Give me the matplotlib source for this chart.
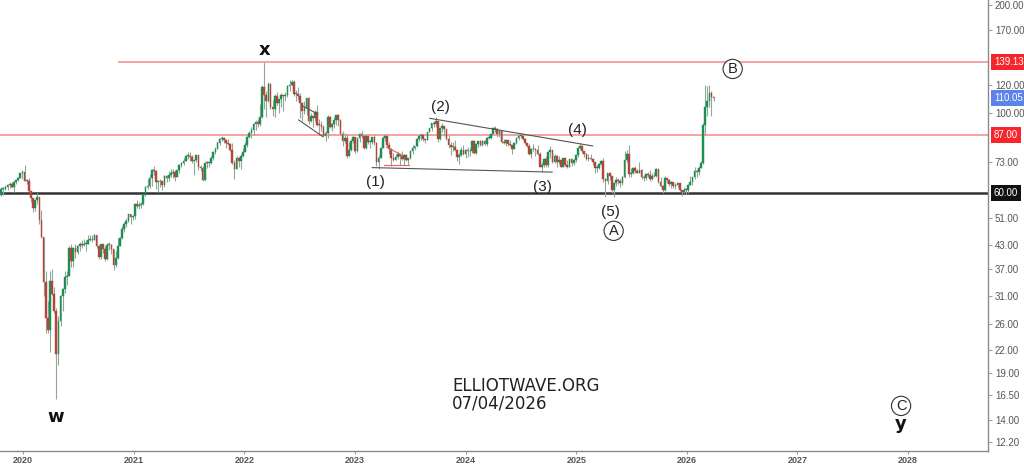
import matplotlib
matplotlib.use("Agg")
import matplotlib.pyplot as plt
import matplotlib.dates as mdates
import matplotlib.transforms as mtransforms
import numpy as np
import pandas as pd


# weekly candles, week starting 2019-10-14 (open of each week = previous close)
FIRST_WEEK = "2019-10-14"
FIRST_OPEN = 60.5

close = [
    # 2019
    59.4, 61.7, 61.7, 62.5, 63.3, 63.4, 62.4, 64.4, 65.2, 66.1, 68.2,
    # 2020
    68.6, 65.0, 64.9, 60.7, 58.2, 54.5, 57.3, 58.5, 50.5, 45.3, 33.9, 27.0, 24.9,
    34.1, 31.5, 28.1, 21.4, 26.4, 31.0, 32.5, 35.1, 35.3, 42.3, 38.7, 42.2, 41.0,
    42.8, 43.2, 43.1, 43.3, 43.3, 44.4, 44.8, 44.4, 45.8, 42.7, 39.8, 43.2, 41.9,
    39.3, 42.9, 42.9, 41.8, 37.9, 39.5, 42.8, 45.0, 47.8, 49.3, 50.0, 52.3, 51.3, 51.8,
    # 2021
    56.0, 55.1, 55.4, 55.9, 59.3, 62.4, 62.9, 66.1, 69.4, 69.2, 64.5, 64.6, 64.9,
    63.0, 66.8, 66.1, 67.3, 68.3, 68.7, 66.4, 69.6, 71.9, 72.7, 73.5, 76.2, 76.2,
    75.6, 73.6, 74.1, 76.3, 70.7, 70.6, 65.2, 72.7, 72.6, 72.9, 75.3, 78.1, 79.3,
    82.4, 84.9, 85.5, 84.4, 82.7, 82.2, 78.9, 72.7, 69.9, 75.2, 73.5, 76.1, 77.8,
    # 2022
    81.8, 86.1, 87.9, 90.0, 93.3, 94.4, 93.5, 97.9, 118.1, 112.7, 107.9, 120.7, 104.4,
    102.8, 111.7, 106.7, 109.3, 112.4, 111.6, 112.6, 119.4, 119.7, 122.0, 113.1, 113.1,
    111.6, 107.0, 101.2, 103.2, 110.0, 94.9, 98.2, 96.7, 101.0, 93.0, 92.8, 91.4, 86.2,
    88.0, 97.9, 91.6, 93.5, 95.8, 98.6, 96.0, 87.6, 83.6, 85.6, 76.1, 79.0, 83.9, 85.9,
    # 2023
    78.6, 85.3, 87.6, 86.7, 79.9, 86.4, 83.0, 83.2, 85.8, 82.8, 73.0, 75.0, 79.8,
    85.1, 86.3, 81.7, 79.5, 75.3, 74.2, 75.6, 77.0, 76.1, 74.8, 76.6, 73.9, 74.9,
    78.5, 79.9, 81.1, 85.0, 86.2, 86.8, 84.8, 84.5, 88.6, 90.7, 93.9, 93.3, 95.3,
    84.6, 90.9, 92.2, 90.5, 84.9, 81.4, 80.6, 80.6, 78.9, 75.8, 76.6, 79.1, 77.0,
    # 2024
    78.8, 78.3, 78.6, 83.6, 77.3, 82.2, 83.5, 81.6, 83.6, 82.1, 85.3, 85.4, 87.5,
    91.2, 90.5, 87.3, 89.5, 83.0, 82.8, 84.0, 82.1, 81.6, 79.6, 82.6, 85.2, 86.4,
    86.5, 85.0, 82.6, 81.1, 76.8, 79.7, 79.7, 79.0, 76.9, 71.1, 71.6, 74.5, 72.0,
    78.1, 79.0, 73.1, 76.1, 73.1, 73.9, 71.0, 75.2, 71.8, 71.1, 74.5, 72.9, 74.2,
    # 2025
    76.5, 79.8, 81.0, 78.5, 76.8, 74.7, 74.7, 74.4, 73.2, 70.4, 70.6, 72.2, 73.6,
    65.6, 64.8, 68.0, 66.9, 61.3, 63.9, 65.4, 64.8, 63.9, 66.5, 74.2, 77.0, 67.8,
    68.3, 70.4, 69.3, 68.4, 69.7, 66.6, 65.9, 67.7, 67.5, 65.5, 67.0, 66.7, 70.1,
    64.5, 62.7, 61.3, 65.9, 65.1, 63.6, 64.4, 62.6, 63.2, 63.8, 61.1, 60.5, 61.0,
    # 2026
    61.0, 63.3, 64.5, 66.5, 69.3, 68.5, 70.5, 72.9, 92.7, 104.0, 108.5, 113.5, 111.0, 110.05,
]

high = [
    60.8, 62.2, 62.4, 63.2, 63.5, 64.2, 64.3, 64.6, 65.3, 66.5, 68.3,
    69.5, 71.8, 65.5, 66.0, 60.5, 58.2, 57.5, 59.9, 58.3, 53.7, 45.2, 36.3, 30.0,
    36.3, 36.9, 32.9, 28.7, 27.3, 31.3, 32.7, 36.4, 36.4, 42.6, 43.4, 42.5, 43.2,
    43.0, 43.9, 44.3, 44.7, 44.3, 46.0, 45.9, 46.0, 46.2, 46.0, 42.9, 43.4, 43.1,
    42.8, 43.5, 43.9, 43.4, 42.0, 41.4, 45.1, 45.2, 48.7, 49.9, 51.0, 52.6, 52.5, 52.0,
    56.3, 57.4, 56.7, 56.7, 59.6, 62.8, 65.5, 67.7, 69.8, 71.4, 69.4, 65.1, 65.8,
    64.9, 67.3, 67.5, 69.0, 69.8, 69.8, 69.6, 69.7, 72.3, 73.0, 75.0, 76.4, 77.8,
    77.8, 76.4, 74.2, 76.6, 75.6, 71.6, 71.3, 72.9, 73.7, 73.4, 76.0, 78.4, 80.8,
    83.5, 85.1, 86.7, 86.1, 85.0, 84.6, 82.6, 82.9, 74.0, 76.2, 75.6, 76.9, 79.8,
    83.0, 86.7, 89.5, 91.7, 94.0, 95.6, 96.2, 105.8, 119.8, 139.13, 115.5, 122.0, 121.2,
    108.8, 112.8, 114.8, 109.8, 113.6, 112.6, 114.3, 119.9, 124.0, 123.7, 124.0, 116.2,
    118.3, 113.5, 107.7, 108.0, 110.3, 110.9, 99.9, 97.6, 102.0, 105.6, 96.4, 95.2, 93.0,
    89.4, 98.8, 98.1, 94.0, 97.5, 99.1, 99.6, 96.3, 89.2, 87.9, 87.7, 83.3, 84.8, 86.7,
    86.0, 85.5, 88.0, 89.1, 86.9, 86.9, 86.9, 84.2, 86.0, 86.8, 83.0, 76.5, 80.3,
    86.4, 87.5, 86.5, 83.4, 79.9, 77.6, 76.9, 78.5, 77.1, 78.7, 77.1, 77.2, 75.1,
    78.8, 81.8, 81.2, 85.2, 86.6, 88.1, 87.6, 85.0, 88.8, 91.2, 94.2, 95.0, 97.7,
    92.9, 91.0, 93.8, 91.3, 89.3, 86.9, 83.1, 83.3, 84.1, 79.4, 77.4, 80.4, 81.6,
    79.4, 80.8, 79.9, 84.0, 84.0, 82.4, 83.7, 84.3, 84.2, 84.1, 85.7, 87.7, 87.6,
    91.4, 92.2, 91.1, 89.6, 89.7, 84.6, 84.1, 84.0, 84.3, 81.8, 83.3, 86.0, 86.9,
    87.9, 86.6, 85.6, 82.9, 81.9, 80.2, 81.9, 79.9, 81.4, 77.9, 73.1, 75.3, 76.0,
    78.5, 81.2, 79.1, 76.8, 76.6, 76.2, 74.2, 75.3, 75.0, 74.3, 74.7, 74.9, 74.5,
    76.7, 80.8, 82.6, 81.5, 78.0, 77.5, 77.0, 77.0, 75.0, 73.3, 71.7, 72.9, 74.2,
    75.3, 66.0, 68.3, 68.6, 66.3, 64.0, 66.4, 66.2, 65.5, 66.7, 78.5, 79.0, 81.4,
    70.4, 70.7, 71.4, 70.0, 73.4, 70.0, 67.3, 68.0, 68.8, 69.5, 68.0, 68.6, 70.4,
    70.1, 66.6, 63.1, 66.8, 66.0, 65.5, 65.0, 64.5, 63.8, 64.2, 63.9, 61.2, 62.3,
    62.0, 63.6, 66.8, 66.5, 70.7, 69.8, 71.5, 73.8, 94.0, 119.5, 119.0, 119.5, 115.0, 112.0,
]

low = [
    58.5, 59.0, 59.2, 61.0, 61.3, 61.9, 61.9, 60.4, 63.4, 64.8, 66.0,
    65.6, 64.7, 63.6, 60.5, 56.5, 53.1, 53.4, 56.1, 49.1, 44.9, 31.0, 24.5, 24.5,
    21.7, 31.2, 27.8, 16.0, 19.9, 25.6, 28.2, 31.6, 33.2, 35.7, 37.3, 37.3, 39.6,
    40.6, 41.5, 42.3, 42.6, 41.5, 43.3, 44.0, 43.9, 44.3, 42.3, 39.2, 39.2, 40.9,
    38.8, 39.1, 41.6, 40.7, 36.6, 37.3, 39.3, 42.6, 44.6, 46.6, 48.3, 49.8, 49.3, 50.4,
    50.7, 54.6, 54.3, 54.6, 55.6, 59.0, 61.6, 62.0, 62.8, 67.4, 61.5, 60.3, 62.5,
    61.3, 62.5, 64.5, 64.9, 66.5, 66.2, 64.6, 66.3, 68.4, 71.1, 71.8, 73.7, 74.4,
    73.7, 72.9, 67.4, 73.4, 69.4, 69.0, 64.6, 65.2, 70.6, 71.1, 72.4, 73.9, 77.1,
    79.6, 81.6, 83.6, 82.4, 80.1, 81.6, 78.4, 72.1, 65.7, 70.0, 71.1, 70.0, 75.6,
    77.8, 80.7, 85.3, 85.6, 87.0, 89.8, 91.6, 92.2, 97.0, 102.8, 97.4, 107.2, 102.8,
    98.0, 97.6, 105.3, 100.4, 104.0, 101.7, 108.2, 110.7, 115.3, 118.8, 111.8, 108.0,
    109.0, 96.9, 95.3, 99.5, 99.1, 93.2, 94.5, 91.5, 95.2, 91.9, 87.0, 89.0, 85.9,
    83.7, 85.2, 91.2, 89.1, 90.9, 92.7, 91.9, 87.4, 81.0, 82.5, 75.1, 76.1, 78.6, 82.8,
    77.6, 78.1, 83.0, 85.1, 79.6, 79.5, 82.1, 80.3, 82.0, 81.8, 71.4, 70.1, 74.9,
    79.8, 83.5, 80.4, 77.1, 71.3, 73.8, 73.9, 74.8, 71.8, 74.0, 71.6, 73.5, 71.8,
    74.6, 76.9, 78.9, 80.4, 83.6, 84.4, 83.5, 82.5, 84.3, 88.4, 89.5, 91.7, 91.4,
    83.4, 84.3, 88.7, 86.3, 84.2, 79.9, 76.6, 78.6, 78.3, 73.8, 72.3, 76.1, 76.6,
    75.2, 75.6, 76.2, 77.6, 76.8, 77.0, 80.5, 81.1, 81.1, 81.5, 81.3, 84.9, 84.9,
    87.7, 88.8, 85.7, 85.8, 82.4, 82.0, 81.1, 80.9, 81.1, 76.8, 79.4, 82.1, 84.4,
    85.3, 84.1, 82.3, 80.4, 76.3, 75.1, 78.6, 75.9, 76.3, 70.9, 68.7, 71.0, 70.9,
    70.7, 75.3, 72.6, 72.7, 71.0, 72.2, 70.9, 70.8, 71.5, 70.6, 71.4, 71.4, 71.6,
    73.4, 75.6, 79.4, 77.6, 75.4, 74.3, 73.6, 74.0, 71.6, 68.3, 68.7, 70.1, 71.7,
    64.2, 58.4, 63.5, 65.3, 60.1, 58.4, 62.8, 63.6, 62.5, 63.1, 66.0, 73.3, 66.3,
    66.5, 67.7, 68.2, 68.0, 68.3, 65.8, 65.0, 65.2, 66.5, 65.0, 65.1, 66.3, 66.5,
    64.0, 62.3, 60.1, 60.9, 63.8, 62.6, 61.9, 61.8, 61.7, 62.4, 60.6, 58.7, 59.9,
    59.6, 59.9, 63.0, 63.2, 65.6, 66.6, 67.2, 70.6, 72.3, 87.0, 98.0, 104.0, 98.0, 108.5,
]

y_ticks = [12.2, 14, 16.5, 19, 22, 26, 31, 37, 43, 51, 73, 100, 120, 170, 200]
tag_values = [139.13, 110.05, 87.00, 60.00]
tag_colors = ["#f7262d", "#5b84e8", "#f7262d", "#111111"]

# wave labels: (text, date, price)
wave_labels = [
    ("(1)", "2023-03-10", 64.4),
    ("(2)", "2023-10-11", 104.1),
    ("(3)", "2024-09-12", 62.4),
    ("(4)", "2025-01-06", 89.8),
    ("(5)", "2025-04-23", 53.2),
]
degree_labels = [("x", "2022-03-07", 150.0), ("w", "2020-04-18", 14.3), ("y", "2027-12-09", 13.7)]
circled_labels = [("A", "2025-05-04", 47.1), ("B", "2026-06-01", 132.8), ("C", "2027-12-09", 15.35)]

trend_lines = [
    (("2022-06-29", 95.8), ("2022-09-16", 86.2), "#555555"),
    (("2022-07-12", 104.8), ("2022-08-31", 99.5), "#555555"),
    (("2023-09-05", 96.8), ("2025-02-24", 81.1), "#555555"),
    (("2023-02-27", 70.6), ("2024-10-13", 68.6), "#555555"),
    (("2023-04-15", 80.6), ("2023-06-03", 76.6), "#f06060"),
    (("2023-04-08", 71.8), ("2023-06-27", 71.8), "#f06060"),
]


def d(s):
    return mdates.date2num(pd.Timestamp(s))


dates = pd.date_range(FIRST_WEEK, periods=len(close), freq="W-MON")
x = mdates.date2num(dates)
c = np.array(close)
o = np.concatenate([[FIRST_OPEN], c[:-1]])
h = np.maximum(np.array(high), np.maximum(o, c))
lo = np.minimum(np.array(low), np.minimum(o, c))
up = c >= o

fig = plt.figure(figsize=(10.24, 4.67), dpi=100)
ax = fig.add_axes([0, 16 / 467, 988 / 1024, 451 / 467])
ax.set_yscale("log")
ax.set_xlim(d("2019-10-17"), d("2028-09-21"))
ax.set_ylim(11.5, 206.5)

# reference levels
ax.axhline(87.0, color="#f59a9a", lw=1.3, zorder=1)
ax.hlines(139.13, d("2020-11-09"), d("2028-09-21"), color="#f59a9a", lw=1.3, zorder=1)
ax.axhline(60.0, color="#333333", lw=1.8, zorder=1)

# candles
ax.vlines(x, lo, h, color="#8fa898", lw=0.8, zorder=2)
body = np.maximum(np.abs(c - o), c * 0.006)
ax.bar(x[up], body[up], bottom=np.minimum(o, c)[up], width=5.6, color="#1d8f54",
       edgecolor="#1d8f54", lw=0.3, zorder=3)
ax.bar(x[~up], body[~up], bottom=np.minimum(o, c)[~up], width=5.6, color="#b5443a",
       edgecolor="#b5443a", lw=0.3, zorder=3)

for (d0, p0), (d1, p1), col in trend_lines:
    ax.plot([d(d0), d(d1)], [p0, p1], color=col, lw=0.8, zorder=4)

for txt, ds, p in wave_labels:
    ax.text(d(ds), p, txt, ha="center", va="center", fontsize=11,
            family="Liberation Sans", color="#222222")
for txt, ds, p in degree_labels:
    ax.text(d(ds), p, txt, ha="center", va="center", fontsize=13,
            fontweight="bold", color="#111111")
for txt, ds, p in circled_labels:
    ax.text(d(ds), p, txt, ha="center", va="center", fontsize=10.5,
            family="Liberation Sans", color="#222222",
            bbox=dict(boxstyle="circle,pad=0.18", fc="white", ec="#333333", lw=0.8))

ax.text(0.4575, 0.144, "ELLIOTWAVE.ORG", transform=ax.transAxes, ha="left", va="center",
        fontsize=12, color="#222222")
ax.text(0.4575, 0.106, "07/04/2026", transform=ax.transAxes, ha="left", va="center",
        fontsize=12, color="#222222")

# axes styling
for side in ("left", "top"):
    ax.spines[side].set_visible(False)
for side in ("right", "bottom"):
    ax.spines[side].set_color("#8a8a8a")
    ax.spines[side].set_linewidth(1.0)

ax.yaxis.tick_right()
ax.set_yticks(y_ticks)
ax.set_yticklabels([f"{v:.2f}" for v in y_ticks], family="Liberation Sans")
ax.yaxis.set_minor_locator(matplotlib.ticker.NullLocator())
ax.tick_params(axis="y", which="major", length=3, width=0.6, color="#8a8a8a",
               labelsize=7, labelcolor="#555555", pad=2)

years = list(range(2020, 2029))
ax.set_xticks([d(f"{yr}-01-01") for yr in years])
ax.set_xticklabels([str(yr) for yr in years], fontweight="bold", family="Liberation Sans")
ax.tick_params(axis="x", length=2, width=0.6, color="#8a8a8a", labelsize=6.5,
               labelcolor="#555555", pad=1.5)

trans = mtransforms.blended_transform_factory(ax.transAxes, ax.transData)
for val, col in zip(tag_values, tag_colors):
    ax.text(1.006, val, f"{val:.2f}", transform=trans, ha="left", va="center",
            fontsize=7, color="white", family="Liberation Sans", zorder=6,
            bbox=dict(boxstyle="square,pad=0.3", fc=col, ec="none"))

fig.savefig("out.png", dpi=100)
